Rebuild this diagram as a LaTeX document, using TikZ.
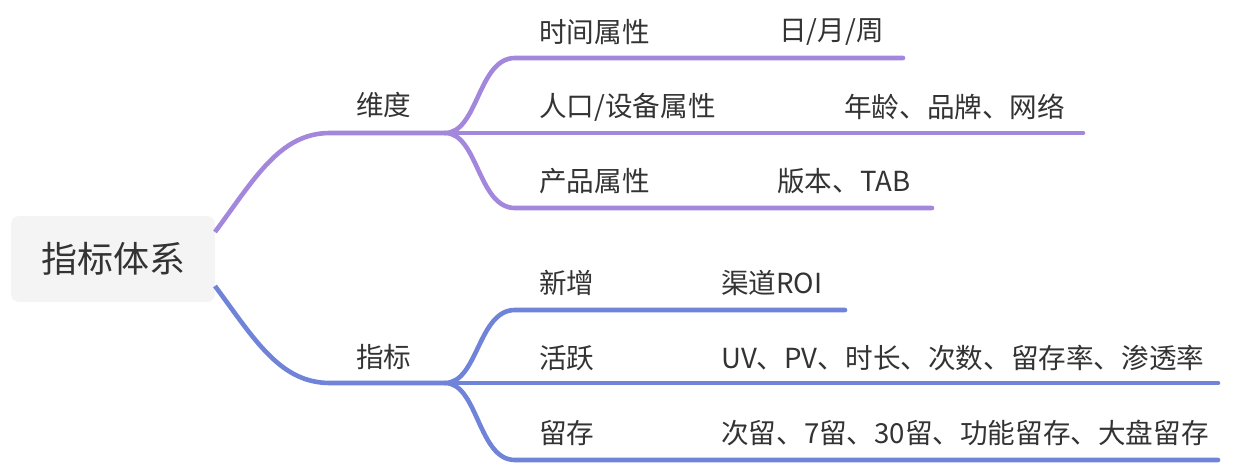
\documentclass[tikz,border=0pt]{standalone}
\usepackage{fontspec}
\setmainfont{Noto Sans CJK SC}
\definecolor{purp}{HTML}{A287DC}
\definecolor{blu}{HTML}{6F83D8}
\definecolor{txt}{HTML}{333333}
\definecolor{rootbg}{HTML}{F4F4F4}
\begin{document}
\begin{tikzpicture}[x=1pt,y=-1pt,
  lbl/.style={anchor=west,inner sep=0pt,text=txt,font=\fontsize{27.6}{32}\selectfont},
  br/.style={line width=4.6pt,line cap=round},
  rootbox/.style={fill=rootbg,rounded corners=8pt,minimum width=204pt,minimum height=86pt,inner sep=0pt,text=txt,font=\fontsize{36}{42}\selectfont}]
\useasboundingbox (0,0) rectangle (1242,464);
% root
\node[rootbox] (root) at (113,259) {指标体系};
% coordinates
\coordinate (ra) at (215,232);
\coordinate (rb) at (215,286);
\coordinate (da) at (330,133);
\coordinate (df) at (445,133);
\coordinate (ia) at (330,383);
\coordinate (if) at (445,383);
\coordinate (e1) at (903,58);
\coordinate (e2) at (1083,133);
\coordinate (e3) at (932,208);
\coordinate (f1) at (845,310);
\coordinate (f2) at (1218,383);
\coordinate (f3) at (1218,460);
% labels
\node[lbl] (wd) at (356,105) {维度};
\node[lbl] (zb) at (356,357) {指标};
\node[lbl] (a1) at (539,32) {时间属性};
\node[lbl] (b1) at (779,32) {日/月/周};
\node[lbl] (a2) at (539,107) {人口/设备属性};
\node[lbl] (b2) at (844,107) {年龄、品牌、网络};
\node[lbl] (a3) at (539,181) {产品属性};
\node[lbl] (b3) at (777,181) {版本、TAB};
\node[lbl] (c1) at (539,283) {新增};
\node[lbl] (d1) at (721,283) {渠道ROI};
\node[lbl] (c2) at (539,358) {活跃};
\node[lbl] (d2) at (721,358) {UV、PV、时长、次数、留存率、渗透率};
\node[lbl] (c3) at (539,433) {留存};
\node[lbl] (d3) at (721,433) {次留、7留、30留、功能留存、大盘留存};
% purple branch
\draw[br,purp,line cap=butt] (ra) .. controls (255,178) and (280,133) .. (da) -- (df);
\draw[br,purp] (df) .. controls (478,133) and (478,58) .. (515,58) -- (e1);
\draw[br,purp] (df) -- (e2);
\draw[br,purp] (df) .. controls (478,133) and (478,208) .. (515,208) -- (e3);
% blue branch
\draw[br,blu,line cap=butt] (rb) .. controls (255,340) and (280,383) .. (ia) -- (if);
\draw[br,blu] (if) .. controls (478,383) and (478,310) .. (515,310) -- (f1);
\draw[br,blu] (if) -- (f2);
\draw[br,blu] (if) .. controls (478,383) and (478,460) .. (515,460) -- (f3);
\end{tikzpicture}
\end{document}
